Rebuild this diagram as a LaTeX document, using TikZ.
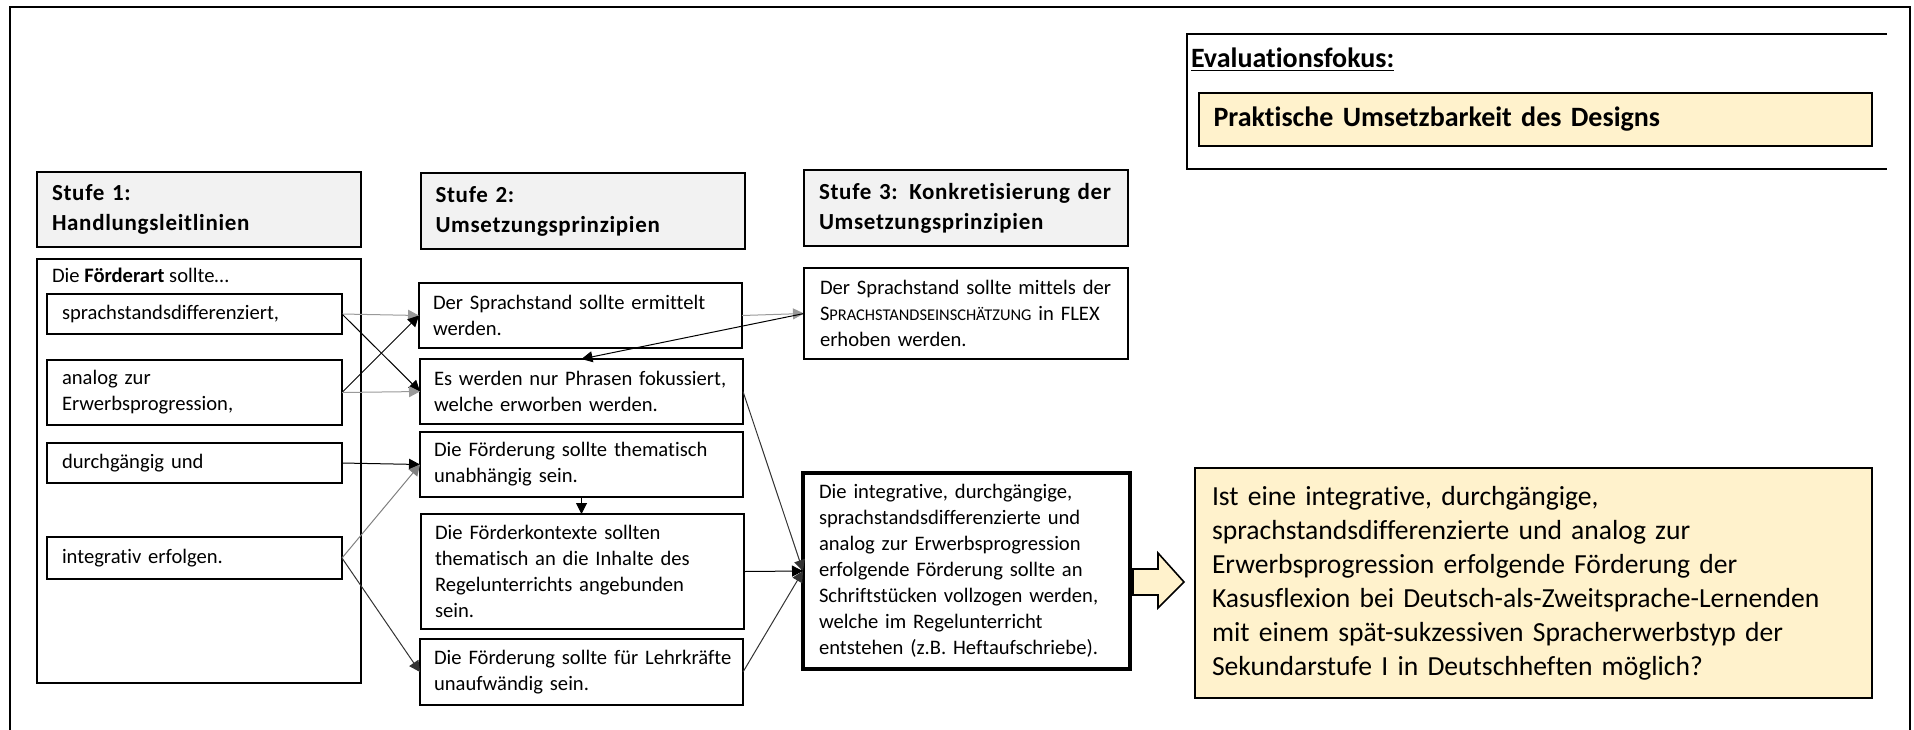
\documentclass[tikz,border=0pt]{standalone}
\usepackage{fontspec}
\setmainfont{Carlito}[Ligatures=NoCommon]
\newfontfamily\hdrfont{Carlito}[LetterSpace=3, Ligatures=NoCommon]
\usetikzlibrary{arrows.meta}
\definecolor{hdrgrey}{HTML}{F2F2F2}
\definecolor{cream}{HTML}{FFF2CC}
\definecolor{linegrey}{gray}{0.6}
\newcommand\kapit[2]{#1{\fontsize{8.2pt}{13pt}\selectfont #2}}

\tikzset{
  every node/.style={inner sep=0pt, outer sep=0pt},
  frameline/.style={line width=1pt, line cap=rect},
  hdrbox/.style={draw, line width=1pt, fill=hdrgrey, minimum width=162pt,
    minimum height=38pt, text width=147pt, inner xsep=7.5pt, align=left,
    font=\hdrfont\bfseries\fontsize{11.5pt}{15pt}\selectfont},
  txtbox/.style={draw, line width=1pt, fill=white, minimum width=161.5pt,
    text width=147.5pt, inner xsep=7pt, align=left,
    font=\fontsize{10.3pt}{13pt}\selectfont},
  itembox/.style={draw, line width=1pt, fill=white, minimum width=147.5pt,
    text width=132.5pt, inner xsep=7.5pt, align=left,
    font=\fontsize{10.3pt}{13pt}\selectfont},
  tip/.style={-{Triangle[length=5.5pt,width=5.5pt]}},
  conn/.style={tip, line width=0.5pt, black},
  connlight/.style={tip, line width=0.5pt, draw=linegrey},
}

\begin{document}
\begin{tikzpicture}[x=0.5pt, y=-0.5pt]
\useasboundingbox (0,0) rectangle (1914,729);

% outer frame (open at the bottom)
\draw[frameline] (10,729) -- (10,7) -- (1910,7) -- (1910,729);

% column headers
\node[hdrbox, minimum height=37.5pt] (h1) at (199,209.5) {Stufe 1:\\Handlungsleitlinien};
\node[hdrbox] (h2) at (582.5,211) {Stufe 2:\\Umsetzungsprinzipien};
\node[hdrbox] (h3) at (966,208) {Stufe 3: Konkretisierung der\\Umsetzungsprinzipien};

% column 1: guidelines
\node[draw, line width=1pt, minimum width=162pt, minimum height=212pt] (body1) at (199,471) {};
\node[anchor=base west, font=\fontsize{10.3pt}{13pt}\selectfont] (intro) at (52,282)
  {Die \textbf{Förderart} sollte…};
\node[itembox, minimum height=20pt] (s1) at (194.5,314) {sprachstandsdifferenziert,};
\node[itembox, minimum height=32.5pt] (s2) at (194.5,392.5) {analog zur\\Erwerbsprogression,};
\node[itembox, minimum height=20pt] (s3) at (194.5,463) {durchgängig und};
\node[itembox, minimum height=21pt] (s4) at (194.5,558) {integrativ erfolgen.};

% column 2: principles
\node[txtbox, minimum height=32.5pt] (pA) at (580.5,315.5) {Der Sprachstand sollte ermittelt\\werden.};
\node[txtbox, minimum height=32.5pt] (pB) at (581.5,391.5) {Es werden nur Phrasen fokussiert,\\welche erworben werden.};
\node[txtbox, minimum height=32.5pt] (pC) at (581.5,464.5) {Die Förderung sollte thematisch\\unabhängig sein.};
\node[txtbox, minimum height=57.5pt] (pD) at (582.5,571.5) {Die Förderkontexte sollten\\thematisch an die Inhalte des\\Regelunterrichts angebunden\\sein.};
\node[txtbox, minimum height=33pt] (pE) at (581.5,672) {\mbox{Die Förderung sollte für Lehrkräfte}\\unaufwändig sein.};

% column 3: concretisation
\node[txtbox, minimum width=162pt, text width=146pt, inner xsep=8pt, minimum height=45.5pt] (cF) at (966,313.5)
  {Der Sprachstand sollte mittels der\\\mbox{\kapit{S}{PRACHSTANDSEINSCHÄTZUNG} in FLEX}\\erhoben werden.};
\node[txtbox, line width=2pt, minimum width=163.5pt, text width=147.5pt, inner xsep=8pt, minimum height=98pt] (cG) at (966.5,571)
  {Die integrative, durchgängige,\\sprachstandsdifferenzierte und\\analog zur Erwerbsprogression\\erfolgende Förderung sollte an\\\mbox{Schriftstücken vollzogen werden,}\\welche im Regelunterricht\\\mbox{entstehen (z.B. Heftaufschriebe).}};

% research question
\node[draw, line width=0.8pt, fill=cream, minimum width=338.5pt, minimum height=115pt,
  text width=321.5pt, inner xsep=8.5pt, align=left,
  font=\fontsize{13.8pt}{17pt}\selectfont] (q) at (1533.5,583)
  {Ist eine integrative, durchgängige,\\sprachstandsdifferenzierte und analog zur\\Erwerbsprogression erfolgende Förderung der\\\mbox{Kasusflexion bei Deutsch-als-Zweitsprache-Lernenden}\\mit einem spät-sukzessiven Spracherwerbstyp der\\Sekundarstufe I in Deutschheften möglich?};

% block arrow towards the question
\draw[line width=0.8pt, fill=cream, line join=miter]
  (1133,569) -- (1158,569) -- (1158,553) -- (1184,582) -- (1158,608) -- (1158,595) -- (1133,595) -- cycle;

% evaluation focus
\draw[frameline, line cap=butt] (1887,34) -- (1187,34) -- (1187,169) -- (1887,169);
\node[anchor=base west, font=\bfseries\fontsize{14pt}{17pt}\selectfont] (evalhead) at (1191,67) {\underline{Evaluationsfokus:}};
\node[draw, line width=0.8pt, fill=cream, minimum width=336.5pt, minimum height=26.5pt,
  text width=322pt, inner xsep=7.25pt, align=left,
  font=\bfseries\fontsize{14pt}{17pt}\selectfont] (focus) at (1535.5,119.5)
  {Praktische Umsetzbarkeit des Designs};

% connectors: column 1 to column 2
\draw[connlight] (s1.east) -- (pA.west);
\draw[conn] (s1.east) -- (pB.west);
\draw[conn] (s2.east) -- (pA.west);
\draw[connlight] (s2.east) -- (pB.west);
\draw[conn] (s3.east) -- (pC.west);
\draw[connlight, draw=gray] (s4.east) -- (pC.west);
\draw[conn, draw=black!80] (s4.east) -- (pE.west);

% connectors between columns 2 and 3
\draw[connlight] (pA.east) -- (cF.west);
\draw[conn] (cF.west) -- (pB.north);
\draw[conn] (pC.south) -- (pC.south |- pD.north);
\draw[conn, draw=black!80] (pB.east) -- (cG.west);
\draw[conn] (pD.east) -- (cG.west);
\draw[conn, draw=black!80] (pE.east) -- (cG.west);
\end{tikzpicture}
\end{document}
